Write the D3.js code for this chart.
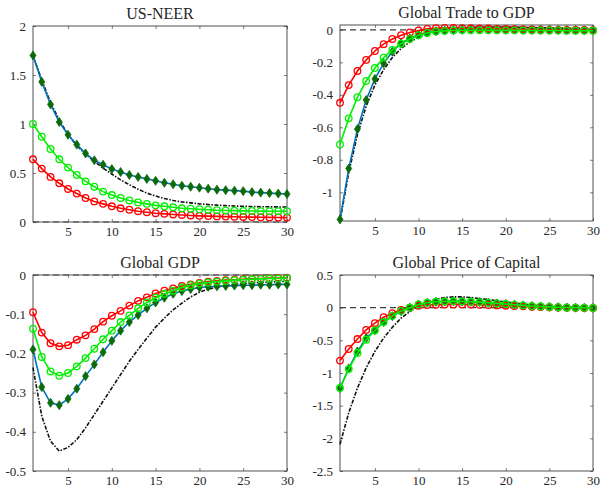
<!DOCTYPE html>
<html>
<head>
<meta charset="utf-8">
<script src="https://cdn.jsdelivr.net/npm/d3@7"></script>
<style>
body { margin: 0; background: #fff; }
text { font-family: "Liberation Serif", "DejaVu Serif", serif; fill: #262626; }
</style>
</head>
<body>
<div id="chart"></div>
<script>
var periods = d3.range(1, 31);
var titles = ["US-NEER", "Global Trade to GDP", "Global GDP", "Global Price of Capital"];
var xTicks = [5, 10, 15, 20, 25, 30];

// US-NEER
var neerBlack = [1.70,1.45,1.22,1.04,0.89,0.78,0.69,0.62,0.55,0.49,0.43,0.38,0.335,0.295,0.265,0.24,0.22,0.205,0.195,0.185,0.178,0.172,0.167,0.163,0.16,0.158,0.156,0.155,0.154,0.153];
var neerBlue  = [1.70,1.43,1.20,1.02,0.89,0.79,0.70,0.63,0.585,0.54,0.51,0.48,0.46,0.44,0.42,0.40,0.385,0.37,0.36,0.35,0.34,0.33,0.325,0.32,0.315,0.305,0.30,0.295,0.29,0.285];
var neerGreen = [1.0,0.87,0.745,0.64,0.555,0.48,0.415,0.36,0.31,0.275,0.245,0.22,0.20,0.185,0.17,0.16,0.15,0.14,0.135,0.13,0.125,0.12,0.118,0.116,0.114,0.112,0.111,0.11,0.11,0.11];
var neerRed   = [0.64,0.545,0.46,0.395,0.337,0.29,0.245,0.21,0.185,0.16,0.14,0.125,0.11,0.10,0.09,0.083,0.077,0.072,0.067,0.063,0.06,0.057,0.055,0.053,0.051,0.05,0.048,0.047,0.046,0.045];
var neerTicks = [0, 0.5, 1, 1.5, 2];

// Global Trade to GDP
var tradeBlack = [-1.177,-0.88,-0.645,-0.47,-0.34,-0.245,-0.17,-0.115,-0.075,-0.045,-0.024,-0.01,0.0,0.007,0.012,0.015,0.017,0.018,0.018,0.017,0.016,0.015,0.014,0.013,0.012,0.011,0.01,0.009,0.009,0.008];
var tradeBlue  = [-1.167,-0.854,-0.611,-0.432,-0.302,-0.206,-0.134,-0.082,-0.052,-0.03,-0.016,-0.008,-0.004,-0.001,0.001,0.002,0.002,0.002,0.002,0.001,0.001,0.0,0.0,0.0,-0.001,-0.001,-0.001,-0.001,-0.002,-0.002];
var tradeGreen = [-0.706,-0.545,-0.415,-0.315,-0.235,-0.171,-0.123,-0.085,-0.056,-0.033,-0.019,-0.01,-0.006,-0.004,-0.003,-0.003,-0.003,-0.003,-0.003,-0.003,-0.003,-0.004,-0.004,-0.004,-0.004,-0.004,-0.005,-0.005,-0.005,-0.005];
var tradeRed   = [-0.449,-0.34,-0.253,-0.185,-0.13,-0.088,-0.056,-0.033,-0.016,-0.004,0.006,0.01,0.012,0.012,0.011,0.01,0.009,0.008,0.006,0.005,0.004,0.003,0.002,0.001,0.0,0.0,-0.001,-0.001,-0.001,-0.002];
var tradeTicks = [0, -0.2, -0.4, -0.6, -0.8, -1];

// Global GDP
var gdpBlack = [-0.236,-0.36,-0.424,-0.449,-0.44,-0.42,-0.39,-0.356,-0.322,-0.288,-0.254,-0.22,-0.19,-0.161,-0.133,-0.11,-0.089,-0.072,-0.056,-0.044,-0.036,-0.031,-0.027,-0.024,-0.022,-0.02,-0.019,-0.018,-0.017,-0.016];
var gdpBlue  = [-0.19,-0.286,-0.326,-0.332,-0.316,-0.29,-0.258,-0.228,-0.197,-0.168,-0.142,-0.12,-0.102,-0.085,-0.07,-0.058,-0.048,-0.041,-0.036,-0.032,-0.03,-0.029,-0.028,-0.027,-0.026,-0.026,-0.025,-0.025,-0.024,-0.024];
var gdpGreen = [-0.137,-0.209,-0.246,-0.257,-0.25,-0.233,-0.212,-0.188,-0.164,-0.142,-0.12,-0.103,-0.085,-0.07,-0.058,-0.048,-0.04,-0.032,-0.026,-0.022,-0.019,-0.017,-0.015,-0.013,-0.012,-0.011,-0.01,-0.009,-0.009,-0.008];
var gdpRed   = [-0.095,-0.147,-0.174,-0.182,-0.179,-0.165,-0.154,-0.138,-0.119,-0.104,-0.0915,-0.078,-0.066,-0.057,-0.047,-0.04,-0.034,-0.028,-0.024,-0.02,-0.017,-0.015,-0.013,-0.012,-0.011,-0.01,-0.009,-0.008,-0.0075,-0.007];
var gdpTicks = [0, -0.1, -0.2, -0.3, -0.4, -0.5];

// Global Price of Capital
var capBlack = [-2.09,-1.61,-1.23,-0.92,-0.67,-0.465,-0.30,-0.16,-0.06,0.025,0.09,0.13,0.155,0.165,0.165,0.155,0.14,0.125,0.105,0.085,0.07,0.055,0.04,0.03,0.02,0.012,0.006,0.002,-0.001,-0.003];
var capBlue  = [-1.23,-0.93,-0.67,-0.465,-0.345,-0.22,-0.13,-0.055,0.0,0.05,0.075,0.09,0.095,0.1,0.095,0.09,0.085,0.075,0.065,0.055,0.045,0.035,0.025,0.018,0.012,0.007,0.003,0.0,-0.002,-0.004];
var capGreen = [-1.23,-0.94,-0.695,-0.49,-0.35,-0.22,-0.125,-0.05,0.0,0.05,0.075,0.09,0.095,0.1,0.095,0.09,0.085,0.075,0.065,0.055,0.045,0.035,0.025,0.018,0.012,0.007,0.003,0.0,-0.002,-0.004];
var capRed   = [-0.81,-0.633,-0.48,-0.34,-0.237,-0.146,-0.085,-0.034,0.0,0.03,0.04,0.045,0.05,0.05,0.05,0.048,0.045,0.04,0.035,0.03,0.025,0.02,0.015,0.01,0.006,0.003,0.0,-0.002,-0.004,-0.005];
var capTicks = [0.5, 0, -0.5, -1, -1.5, -2, -2.5];

var panels = [
  {title: titles[0], box: [33, 287, 26, 222], yDomain: [0, 2], yTicks: neerTicks,
   black: neerBlack, blue: neerBlue, green: neerGreen, red: neerRed},
  {title: titles[1], box: [340, 593, 25, 221], yDomain: [-1.177, 0.03], yTicks: tradeTicks,
   black: tradeBlack, blue: tradeBlue, green: tradeGreen, red: tradeRed},
  {title: titles[2], box: [33, 287, 275, 471], yDomain: [-0.5, 0], yTicks: gdpTicks,
   black: gdpBlack, blue: gdpBlue, green: gdpGreen, red: gdpRed},
  {title: titles[3], box: [340, 593, 275, 471], yDomain: [-2.5, 0.5], yTicks: capTicks,
   black: capBlack, blue: capBlue, green: capGreen, red: capRed}
];

var width = 600, height = 488;
var serif = '"Liberation Serif", "DejaVu Serif", serif';
var svg = d3.select("#chart").append("svg")
    .attr("width", width)
    .attr("height", height);

var fmt = function(d) { return String(d); };  // keeps plain "-" like matlab

panels.forEach(function(p) {
  var x = d3.scaleLinear().domain([1, 30]).range([p.box[0], p.box[1]]);
  var y = d3.scaleLinear().domain(p.yDomain).range([p.box[3], p.box[2]]);
  var g = svg.append("g");

  // axes, ticks pointing inward on all four sides
  g.append("g")
    .attr("transform", "translate(0," + p.box[3] + ")")
    .call(d3.axisBottom(x).tickValues(xTicks).tickSize(-3).tickPadding(5).tickFormat(fmt));
  g.append("g")
    .attr("transform", "translate(0," + p.box[2] + ")")
    .call(d3.axisTop(x).tickValues(xTicks).tickSize(-3).tickFormat(""));
  g.append("g")
    .attr("transform", "translate(" + p.box[0] + ",0)")
    .call(d3.axisLeft(y).tickValues(p.yTicks).tickSize(-3).tickPadding(7).tickFormat(fmt));
  g.append("g")
    .attr("transform", "translate(" + p.box[1] + ",0)")
    .call(d3.axisRight(y).tickValues(p.yTicks).tickSize(-3).tickFormat(""));
  g.selectAll(".domain").remove();
  g.selectAll(".tick line").attr("stroke", "#262626").attr("stroke-width", 0.6);
  g.selectAll(".tick text")
    .style("font-family", serif)
    .style("font-size", "13px")
    .attr("fill", "#262626");

  g.append("rect")
    .attr("x", p.box[0]).attr("y", p.box[2])
    .attr("width", p.box[1] - p.box[0]).attr("height", p.box[3] - p.box[2])
    .attr("fill", "none").attr("stroke", "#262626").attr("stroke-width", 0.8);

  g.append("text")
    .attr("x", (p.box[0] + p.box[1]) / 2)
    .attr("y", p.box[2] - 7)
    .attr("text-anchor", "middle")
    .style("font-family", serif)
    .style("font-size", "16px")
    .text(p.title);

  // zero reference line
  g.append("line")
    .attr("x1", x(1)).attr("x2", x(30))
    .attr("y1", y(0)).attr("y2", y(0))
    .attr("stroke", "#404040").attr("stroke-width", 1.1)
    .attr("stroke-dasharray", "6,4");

  var line = d3.line()
    .x(function(d, i) { return x(periods[i]); })
    .y(function(d) { return y(d); });

  g.append("path").datum(p.black)
    .attr("d", line).attr("fill", "none")
    .attr("stroke", "#111").attr("stroke-width", 1.6)
    .attr("stroke-dasharray", "4,1.5,1.5,1.5");

  g.append("path").datum(p.blue)
    .attr("d", line).attr("fill", "none")
    .attr("stroke", "#0072bd").attr("stroke-width", 1.6);
  g.selectAll(".dia").data(p.blue).enter().append("path")
    .attr("transform", function(d, i) { return "translate(" + x(periods[i]) + "," + y(d) + ")"; })
    .attr("d", "M0,-4.5L3,0L0,4.5L-3,0Z")
    .attr("fill", "#0b6b0b").attr("stroke", "#0b6b0b").attr("stroke-width", 0.8);

  [["red", "#ff0000"], ["green", "#00f000"]].forEach(function(s) {
    var vals = p[s[0]];
    g.append("path").datum(vals)
      .attr("d", line).attr("fill", "none")
      .attr("stroke", s[1]).attr("stroke-width", 1.6);
    g.selectAll(".c-" + s[0]).data(vals).enter().append("circle")
      .attr("cx", function(d, i) { return x(periods[i]); })
      .attr("cy", function(d) { return y(d); })
      .attr("r", 3.3)
      .attr("fill", "none")
      .attr("stroke", s[1]).attr("stroke-width", 1.3);
  });
});
</script>
</body>
</html>
